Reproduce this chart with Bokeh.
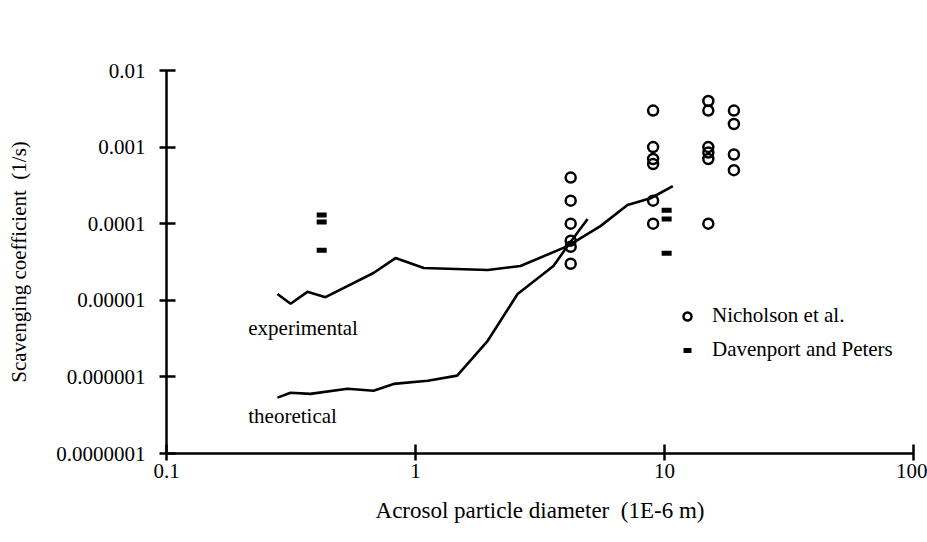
from bokeh.plotting import figure
from bokeh.models import (Range1d, FixedTicker, CustomJSTickFormatter, Legend,
                          LegendItem, Label)
from bokeh.embed import file_html
from bokeh.resources import INLINE

# ---- data ----
exp_x = [0.279, 0.315, 0.368, 0.435, 0.678, 0.831, 1.08, 1.95, 2.64, 4.08, 5.53, 7.10, 8.79, 10.8]
exp_y = [1.21e-5, 9.0e-6, 1.29e-5, 1.1e-5, 2.27e-5, 3.56e-5, 2.64e-5, 2.49e-5, 2.8e-5, 5.1e-5,
         9.3e-5, 1.75e-4, 2.15e-4, 3.1e-4]

theo_x = [0.279, 0.315, 0.378, 0.533, 0.678, 0.817, 1.12, 1.47, 1.95, 2.57, 3.58, 4.08, 4.91]
theo_y = [5.36e-7, 6.2e-7, 6.0e-7, 7.0e-7, 6.6e-7, 8.1e-7, 8.9e-7, 1.04e-6, 2.96e-6, 1.21e-5,
          2.8e-5, 5.1e-5, 1.15e-4]

nich_x = [4.2] * 6 + [9.0] * 6 + [15.0] * 6 + [19.0] * 4
nich_y = [4e-4, 2e-4, 1e-4, 6e-5, 5e-5, 3e-5,
          3e-3, 1e-3, 7e-4, 6e-4, 2e-4, 1e-4,
          4e-3, 3e-3, 1e-3, 8.5e-4, 7e-4, 1e-4,
          3e-3, 2e-3, 8e-4, 5e-4]

dav_x = [0.42, 0.42, 0.42, 10.2, 10.2, 10.2]
dav_y = [1.3e-4, 1.05e-4, 4.5e-5, 1.5e-4, 1.15e-4, 4.1e-5]

xticks = [0.1, 1, 10, 100]
xtick_labels = ["0.1", "1", "10", "100"]
yticks = [1e-7, 1e-6, 1e-5, 1e-4, 1e-3, 1e-2]
ytick_labels = ["0.0000001", "0.000001", "0.00001", "0.0001", "0.001", "0.01"]

FONT = "Liberation Serif"
FS_T = "21px"

p = figure(width=927, height=542, x_axis_type="log", y_axis_type="log",
           x_range=Range1d(0.1, 100), y_range=Range1d(1e-7, 1e-2),
           output_backend="svg", toolbar_location=None,
           min_border_left=166, min_border_right=14,
           min_border_top=70, min_border_bottom=89)
p.outline_line_color = None
p.xgrid.visible = False
p.ygrid.visible = False
p.background_fill_color = "white"

fmt_code = """
let best = 0; let bd = 1e9;
for (let i = 0; i < vals.length; i++) {
  const d = Math.abs(Math.log10(tick) - Math.log10(vals[i]));
  if (d < bd) { bd = d; best = i; }
}
return labels[best];
"""
p.xaxis.ticker = FixedTicker(ticks=xticks, minor_ticks=[])
p.xaxis.formatter = CustomJSTickFormatter(args=dict(vals=xticks, labels=xtick_labels), code=fmt_code)
p.yaxis.ticker = FixedTicker(ticks=yticks, minor_ticks=[])
p.yaxis.formatter = CustomJSTickFormatter(args=dict(vals=yticks, labels=ytick_labels), code=fmt_code)

for ax in (p.xaxis[0], p.yaxis[0]):
    ax.axis_line_color = "black"
    ax.axis_line_width = 2.5
    ax.major_tick_line_color = "black"
    ax.major_tick_line_width = 2.5
    ax.major_tick_in = 9
    ax.major_tick_out = 7
    ax.minor_tick_line_color = None
    ax.major_label_text_font = FONT
    ax.major_label_text_font_size = FS_T
    ax.major_label_text_color = "black"
    ax.axis_label_text_font = FONT
    ax.axis_label_text_font_size = FS_T
    ax.axis_label_text_font_style = "normal"
    ax.axis_label_text_color = "black"

p.xaxis.axis_label = "Acrosol particle diameter \u00a0(1E-6 m)"
p.yaxis.axis_label = "Scavenging coefficient \u00a0(1/s)"
p.xaxis.axis_label_text_font_size = "23px"
p.xaxis.major_label_standoff = 3
p.yaxis.major_label_standoff = 14
p.xaxis.axis_label_standoff = 17
p.yaxis.axis_label_standoff = 22

p.line(exp_x, exp_y, line_color="black", line_width=2.6)
p.line(theo_x, theo_y, line_color="black", line_width=2.6)

r_n = p.scatter(nich_x, nich_y, marker="circle", size=10, fill_alpha=0,
                line_color="black", line_width=2.5)
r_d = p.scatter(dav_x, dav_y, marker="dash", size=10, line_color="black",
                line_width=5)

legend = Legend(items=[LegendItem(label="Nicholson et al.", renderers=[r_n]),
                       LegendItem(label="Davenport and Peters", renderers=[r_d])],
                location=(511, 91), orientation="vertical",
                padding=0, margin=0, spacing=9,
                glyph_width=20, glyph_height=20, label_height=20,
                label_standoff=15,
                border_line_color=None, background_fill_alpha=0,
                label_text_font=FONT, label_text_font_size=FS_T,
                label_text_color="black")
p.add_layout(legend, "center")

p.add_layout(Label(x=0.213, y=4.38e-6, text="experimental", text_font=FONT,
                   text_font_size=FS_T, text_baseline="middle", text_color="black"))
p.add_layout(Label(x=0.213, y=3.13e-7, text="theoretical", text_font=FONT,
                   text_font_size=FS_T, text_baseline="middle", text_color="black"))

open("out.html", "w").write(file_html(p, INLINE))
